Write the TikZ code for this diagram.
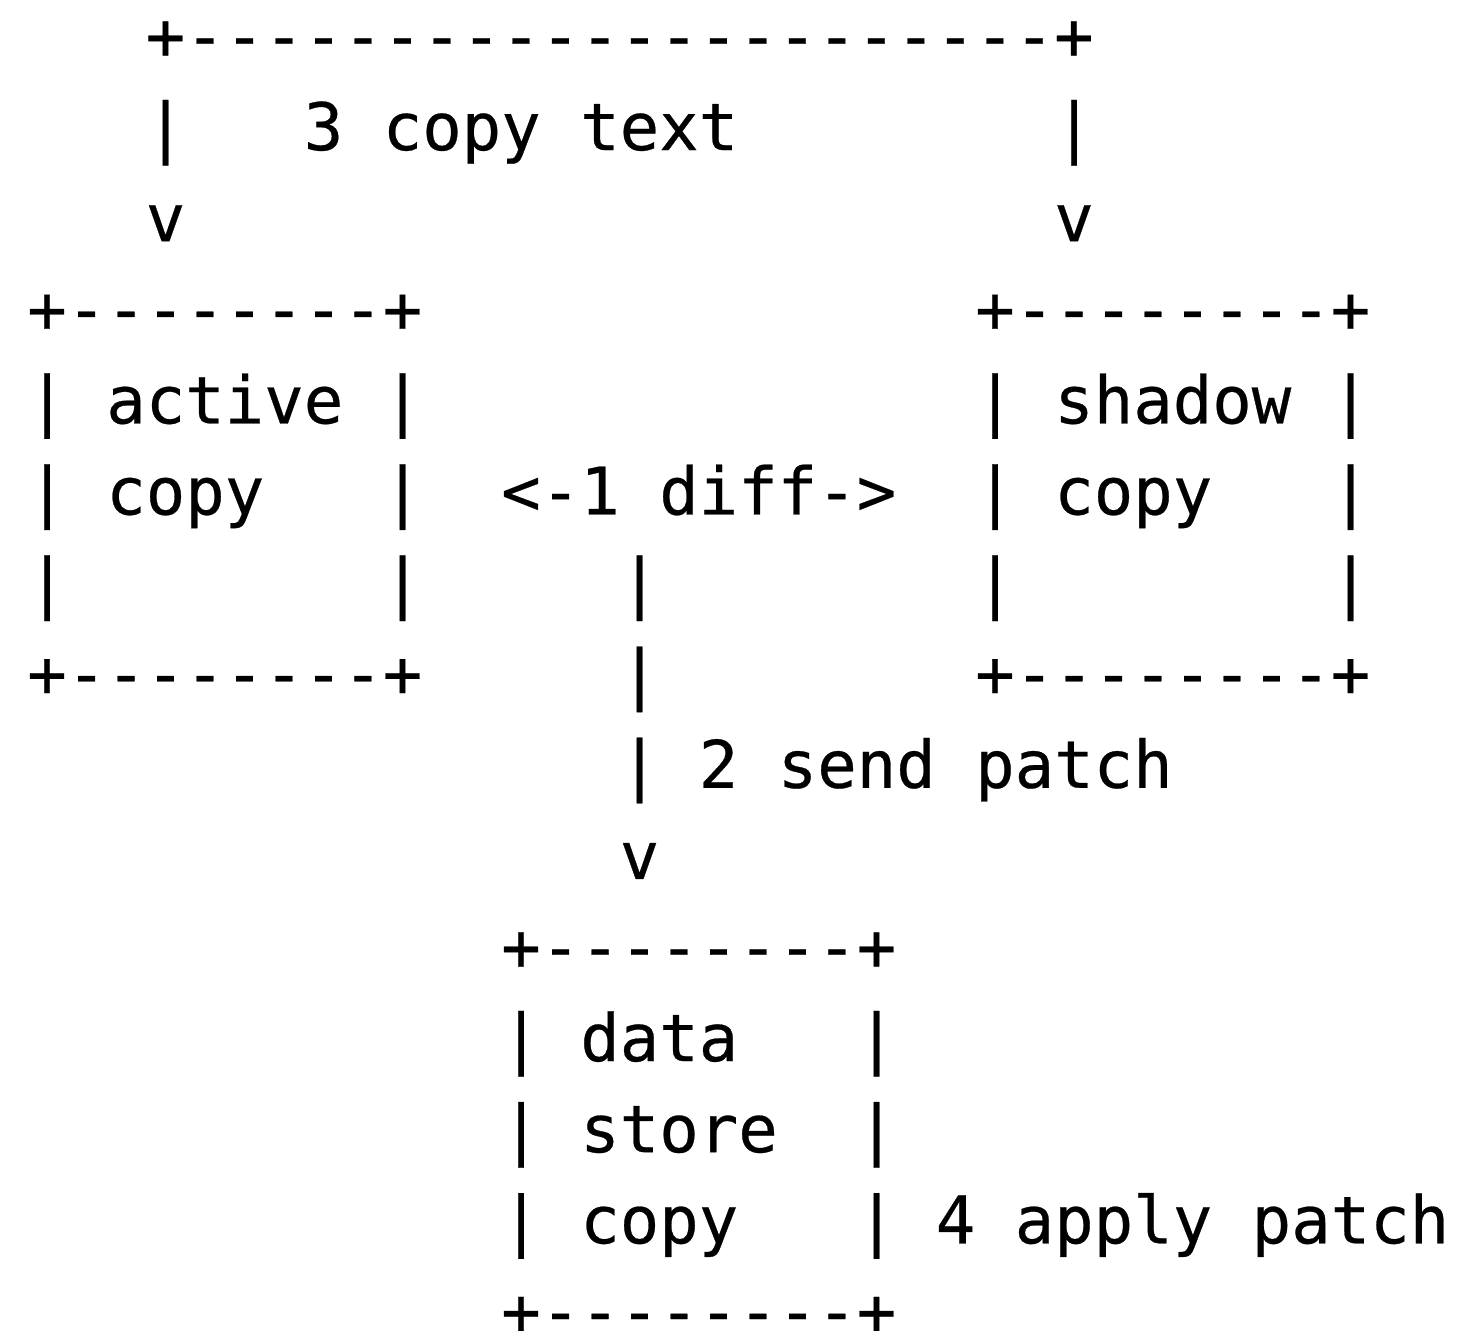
\documentclass[tikz,border=0pt]{standalone}
\usepackage{fontspec}
\setmonofont[FakeBold=0.4]{DejaVu Sans Mono}
\usepackage{tikz}

\tikzset{ascii/.style={font=\ttfamily\fontsize{32.8pt}{40pt}\selectfont, anchor=base west, inner sep=0pt, outer sep=0pt, text=black}}

\begin{document}
\begin{tikzpicture}[x=19.75pt,y=-45.55pt]
	\useasboundingbox (-0.6911,-0.6476) rectangle (36.246,13.996);
	\node [ascii] (topbar) at (3,0) {+----------------------+};
	\node [ascii] (copyl) at (3,1) {|};
	\node [ascii] (copytxt) at (7,1) {3 copy text};
	\node [ascii] (copyr) at (26,1) {|};
	\node [ascii] (copyhl) at (3,2) {v};
	\node [ascii] (copyhr) at (26,2) {v};
	\node [ascii] (acttop) at (0,3) {+--------+};
	\node [ascii] (shdtop) at (24,3) {+--------+};
	\node [ascii] (actl1) at (0,4) {|};
	\node [ascii] (acttxt1) at (2,4) {active};
	\node [ascii] (actr1) at (9,4) {|};
	\node [ascii] (shdl1) at (24,4) {|};
	\node [ascii] (shdtxt1) at (26,4) {shadow};
	\node [ascii] (shdr1) at (33,4) {|};
	\node [ascii] (actl2) at (0,5) {|};
	\node [ascii] (acttxt2) at (2,5) {copy};
	\node [ascii] (actr2) at (9,5) {|};
	\node [ascii] (diff) at (12,5) {<-1 diff->};
	\node [ascii] (shdl2) at (24,5) {|};
	\node [ascii] (shdtxt2) at (26,5) {copy};
	\node [ascii] (shdr2) at (33,5) {|};
	\node [ascii] (actl3) at (0,6) {|};
	\node [ascii] (actr3) at (9,6) {|};
	\node [ascii] (send1) at (15,6) {|};
	\node [ascii] (shdl3) at (24,6) {|};
	\node [ascii] (shdr3) at (33,6) {|};
	\node [ascii] (actbot) at (0,7) {+--------+};
	\node [ascii] (send2) at (15,7) {|};
	\node [ascii] (shdbot) at (24,7) {+--------+};
	\node [ascii] (send3) at (15,8) {| 2 send patch};
	\node [ascii] (sendh) at (15,9) {v};
	\node [ascii] (strtop) at (12,10) {+--------+};
	\node [ascii] (strl1) at (12,11) {|};
	\node [ascii] (strtxt1) at (14,11) {data};
	\node [ascii] (strr1) at (21,11) {|};
	\node [ascii] (strl2) at (12,12) {|};
	\node [ascii] (strtxt2) at (14,12) {store};
	\node [ascii] (strr2) at (21,12) {|};
	\node [ascii] (strl3) at (12,13) {|};
	\node [ascii] (strtxt3) at (14,13) {copy};
	\node [ascii] (apply) at (21,13) {| 4 apply patch};
	\node [ascii] (strbot) at (12,14) {+--------+};
\end{tikzpicture}
\end{document}
